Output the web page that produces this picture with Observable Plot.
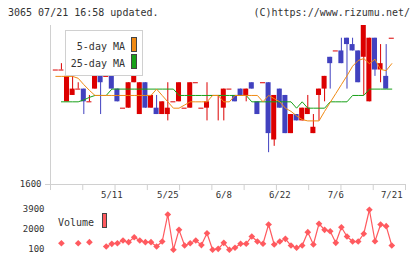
<!DOCTYPE html>
<html><head><meta charset="utf-8">
<script src="https://cdn.jsdelivr.net/npm/d3@7"></script>
<script src="https://cdn.jsdelivr.net/npm/@observablehq/plot@0.6"></script>
<style>
html,body{margin:0;padding:0;background:#fff;}
#wrap{position:relative;width:420px;height:259px;overflow:hidden;}
#wrap svg{position:absolute;left:0;}
</style></head><body><div id="wrap"></div>
<script>
// ---- data (one entry per trading day, 2015-04-24 .. 2015-07-21) ----
const opens  = [1618,1618,1613,1614,1615,1615,1613,1615,1617,1617,1617,1615,1612,1612,1616,1611,1616,1612,1612,1611,1611,1613,1613,1612,1612,1616,1612,1612,1614,1614,1612,1615,1614,1615,1614,1616,1613,1616,1616,1607,1615,1614,1608,1611,1610,1611,1608,1614,1615,1620,1621,1621,1623,1622,1621,1620,1613,1623,1618,1617,1623];
const closes = [1618,1618,1617,1615,1615,1613,1613,1617,1616,1617,1615,1613,1612,1616,1617,1616,1612,1614,1611,1613,1612,1613,1616,1612,1616,1616,1612,1613,1614,1614,1615,1615,1613,1614,1615,1615,1611,1616,1608,1614,1612,1608,1611,1610,1612,1612,1609,1615,1617,1619,1621,1619,1622,1621,1616,1625,1623,1618,1619,1615,1623];
const highs  = [1618,1619,1617,1618,1616,1615,1614,1617,1617,1617,1617,1615,1612,1616,1617,1616,1616,1614,1614,1613,1616,1613,1616,1612,1616,1616,1612,1616,1614,1614,1615,1615,1614,1615,1615,1616,1613,1616,1616,1614,1615,1614,1611,1611,1612,1614,1611,1615,1617,1620,1621,1623,1623,1623,1621,1625,1623,1623,1622,1622,1623];
const lows   = [1618,1618,1613,1614,1615,1611,1613,1615,1611,1617,1615,1613,1612,1612,1616,1611,1612,1612,1611,1611,1610,1613,1613,1612,1612,1616,1612,1610,1614,1610,1610,1615,1613,1614,1613,1615,1611,1616,1605,1606,1612,1608,1608,1610,1610,1611,1608,1610,1613,1615,1621,1619,1615,1621,1616,1614,1613,1617,1616,1615,1623];
const ma5    = [1617,1617,1617,1617,1616.7,1615.7,1614.8,1614,1614,1614,1614,1614,1614,1614,1614,1614,1614,1614,1615,1614,1613,1612,1612,1612.5,1613,1613,1613,1613,1614,1614,1613,1613,1614,1614,1614,1614,1614,1613,1614,1613.5,1613,1612,1611.5,1610.8,1610.2,1610,1610,1610,1611.5,1612.9,1614.3,1615.7,1617.1,1618.6,1619.5,1619.8,1619,1619.7,1618.1,1617.9,1619];
const ma25   = [null,1613,1613,1613,1613,1613.3,1613.7,1614,1614,1614,1615,1615,1615,1615,1615,1615,1615,1615,1615,1615,1615,1615,1614,1614,1614,1614,1614,1614,1614,1614,1614,1614,1614,1614,1614,1613,1613,1613,1613,1613,1613,1613,1613,1612,1613,1612,1612,1612,1612,1613,1613,1613,1613,1614,1614,1614,1615,1615,1615,1615,1615];
const volumes= [null,630,null,null,630,null,730,null,null,320,575,630,890,730,1200,890,730,730,320,790,3360,10,1900,410,630,890,450,1580,10,100,670,10,200,580,580,1270,790,580,2410,510,790,1050,410,200,410,1680,510,2480,1900,1770,670,2150,1270,790,790,1530,3810,820,2410,2250,410];
const dateLabels = ["5/11","5/25","6/8","6/22","7/6","7/21"];
const dateIndex  = [10,20,30,40,50,60];
const priceTicks = [1600];
const volTicks   = [3900,2000,100];

const RED="#dc0000", BLUE="#4141bf", ORANGE="#f08a14", GREEN="#18a018", VOL="#ff5a5f", AX="#d0d0d0", TXT="#333";
const FONT='"DejaVu Sans Mono", monospace';

const rows = opens.map((o,i)=>({i, open:o, close:closes[i], high:highs[i], low:lows[i],
  ma5:ma5[i], ma25:ma25[i]==null?NaN:ma25[i], vol:volumes[i]==null?NaN:volumes[i]}));
const col = d => d.close >= d.open ? RED : BLUE;
const xDom = [-0.95, 62.45];
const gridTicks = d3.range(12).map(j => xDom[0] + j*(xDom[1]-xDom[0])/11);
const hw = 0.45;

const main = Plot.plot({
  width:420, height:205, marginLeft:50, marginRight:15, marginTop:25, marginBottom:21,
  style:{background:"transparent", fontFamily:FONT, fontSize:"9px", color:TXT, top:"0px"},
  x:{type:"linear", domain:xDom, axis:null},
  y:{domain:[1600,1625], axis:null},
  marks:[
    Plot.ruleY(priceTicks,{y:d=>d, x1:xDom[0]-5/5.6, x2:xDom[1], stroke:AX}),
    Plot.ruleX([xDom[0]],{y1:1625, y2:1600, stroke:AX}),
    Plot.ruleX(gridTicks,{x:d=>d, y1:1600, y2:1599.05, stroke:AX}),
    Plot.text(priceTicks,{x:xDom[0], y:d=>d, text:d=>String(d), textAnchor:"end", dx:-9, fill:TXT, fontSize:9}),
    Plot.text(dateIndex,{x:d=>d, text:(d,j)=>dateLabels[j], frameAnchor:"bottom", dy:13, fill:TXT, fontSize:9}),
    Plot.ruleX(rows,{x:"i", y1:"low", y2:"high", stroke:col}),
    Plot.rect(rows.filter(d=>d.open!==d.close),{x1:d=>d.i-hw, x2:d=>d.i+hw, y1:"open", y2:"close", fill:col}),
    Plot.ruleY(rows.filter(d=>d.open===d.close),{y:"close", x1:d=>d.i-hw, x2:d=>d.i+hw, stroke:col}),
    Plot.line(rows,{x:"i", y:"ma25", stroke:GREEN, strokeWidth:1}),
    Plot.line(rows,{x:"i", y:"ma5", stroke:ORANGE, strokeWidth:1})
  ]
});
main.style.top="0px";

const vol = Plot.plot({
  width:420, height:59, marginLeft:50, marginRight:15, marginTop:8.3, marginBottom:10.7,
  style:{background:"transparent", fontFamily:FONT, fontSize:"9px", color:TXT},
  x:{type:"linear", domain:xDom, axis:null},
  y:{domain:[100,3900], axis:null},
  marks:[
    Plot.text(volTicks,{frameAnchor:"left", y:d=>d, text:d=>String(d), textAnchor:"end", dx:-6, fill:TXT, fontSize:9}),
    Plot.line(rows,{x:"i", y:"vol", stroke:VOL, strokeWidth:1.2}),
    Plot.dot(rows.filter(d=>!isNaN(d.vol)),{x:"i", y:"vol", symbol:"diamond2", r:3, fill:VOL, stroke:"none"})
  ]
});
vol.style.top="200px";

const wrap = document.getElementById("wrap");
wrap.appendChild(main);
wrap.appendChild(vol);

// overlay texts and legends
const ov = d3.select(wrap).append("svg").attr("width",420).attr("height",259).style("top","0px")
  .style("font-family",FONT).style("font-size","10px");
ov.append("text").attr("x",8).attr("y",16).attr("fill",TXT).text("3065 07/21 16:58 updated.");
ov.append("text").attr("x",410).attr("y",16).attr("fill",TXT).attr("text-anchor","end").text("(C)https://www.rizumu.net/");
ov.append("rect").attr("x",65.5).attr("y",30.5).attr("width",77).attr("height",45).attr("fill","#fff").attr("stroke","#d0d0d0");
ov.append("text").attr("x",125).attr("y",50).attr("fill",TXT).attr("text-anchor","end").text("5-day MA");
ov.append("rect").attr("x",131.5).attr("y",37.5).attr("width",5).attr("height",14).attr("fill",ORANGE).attr("stroke","#444");
ov.append("text").attr("x",125).attr("y",67).attr("fill",TXT).attr("text-anchor","end").text("25-day MA");
ov.append("rect").attr("x",131.5).attr("y",54.5).attr("width",5).attr("height",14).attr("fill",GREEN).attr("stroke","#444");
ov.append("text").attr("x",94).attr("y",226).attr("fill",TXT).attr("text-anchor","end").text("Volume");
ov.append("rect").attr("x",102.5).attr("y",213.5).attr("width",4).attr("height",14).attr("fill",VOL).attr("stroke","#444");
</script></body></html>
